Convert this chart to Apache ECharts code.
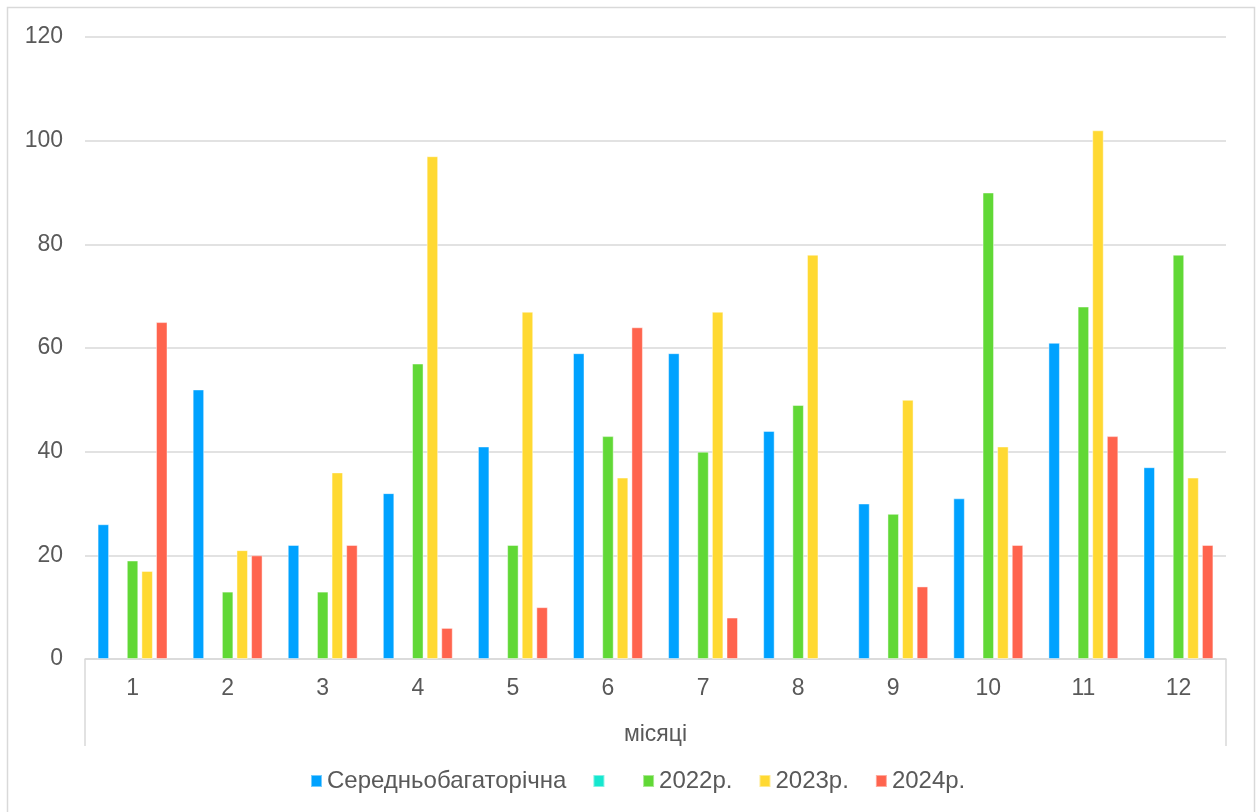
<!DOCTYPE html>
<html>
<head>
<meta charset="utf-8">
<script src="https://cdn.jsdelivr.net/npm/echarts@6/dist/echarts.min.js"></script>
<style>
  html, body { margin: 0; padding: 0; background: #ffffff; }
  #chart { width: 1258px; height: 812px; }
</style>
</head>
<body>
<div id="chart"></div>
<script>
// Monthly values per series (months 1..12)
const months = ['1', '2', '3', '4', '5', '6', '7', '8', '9', '10', '11', '12'];
const longTermMean = [26, 52, 22, 32, 41, 59, 59, 44, 30, 31, 61, 37];
const blankSeries = [null, null, null, null, null, null, null, null, null, null, null, null];
const y2022 = [19, 13, 13, 57, 22, 43, 40, 49, 28, 90, 68, 78];
const y2023 = [17, 21, 36, 97, 67, 35, 67, 78, 50, 41, 102, 35];
const y2024 = [65, 20, 22, 6, 10, 64, 8, null, 14, 22, 43, 22];
const yTicks = { min: 0, max: 120, interval: 20 };

const seriesNames = ['Середньобагаторічна', '\u00a0', '2022р.', '2023р.', '2024р.'];
const seriesData = [longTermMean, blankSeries, y2022, y2023, y2024];
const colors = ['#00A2FF', '#16E7CF', '#61D836', '#FFD932', '#FF644E'];

const FONT = "'Liberation Sans', Arial, sans-serif";
const TEXT = '#595959';
const LINE = '#d9d9d9';

// plot box in pixels
const W = 1258, H = 812;
const gridLeft = 85, gridRight = 32, gridTop = 37, gridBottom = 153;
const plotRightX = W - gridRight;
const plotBottomY = H - gridBottom;
const axisBoxBottom = 746;

const chart = echarts.init(document.getElementById('chart'), null, { renderer: 'canvas' });

chart.setOption({
  backgroundColor: '#ffffff',
  animation: false,
  color: colors,
  textStyle: { fontFamily: FONT },
  graphic: [
    {
      type: 'rect',
      shape: { x: 7.5, y: 7.5, width: 1247, height: 830 },
      style: { fill: 'none', stroke: LINE, lineWidth: 1.5 },
      silent: true, z: -10
    },
    {
      type: 'line',
      shape: { x1: gridLeft, y1: plotBottomY, x2: gridLeft, y2: axisBoxBottom },
      style: { stroke: LINE, lineWidth: 1.5 },
      silent: true
    },
    {
      type: 'line',
      shape: { x1: plotRightX, y1: plotBottomY, x2: plotRightX, y2: axisBoxBottom },
      style: { stroke: LINE, lineWidth: 1.5 },
      silent: true
    }
  ],
  grid: { left: gridLeft, right: gridRight, top: gridTop, bottom: gridBottom, containLabel: false },
  legend: {
    top: 769,
    left: 310,
    padding: 0,
    itemWidth: 11,
    itemHeight: 12,
    itemGap: 26,
    icon: 'rect',
    textStyle: { color: TEXT, fontSize: 24, fontFamily: FONT, padding: [0, 0, 0, 0] },
    data: seriesNames
  },
  xAxis: {
    type: 'category',
    data: months,
    name: 'місяці',
    nameLocation: 'middle',
    nameGap: 64,
    nameTextStyle: { color: TEXT, fontSize: 23, fontFamily: FONT },
    axisLine: { show: true, lineStyle: { color: LINE, width: 1.5 } },
    axisTick: { show: false },
    axisLabel: { color: TEXT, fontSize: 23, margin: 18, fontFamily: FONT }
  },
  yAxis: {
    type: 'value',
    min: yTicks.min,
    max: yTicks.max,
    interval: yTicks.interval,
    axisLine: { show: false },
    axisTick: { show: false },
    splitLine: { lineStyle: { color: LINE, width: 1.5 } },
    axisLabel: { color: TEXT, fontSize: 23, margin: 22, fontFamily: FONT }
  },
  series: seriesNames.map((name, i) => ({
    name: name,
    type: 'bar',
    data: seriesData[i],
    barWidth: 11.5,
    barGap: '27%',
    itemStyle: { color: colors[i], borderColor: 'rgba(255,255,255,0.45)', borderWidth: 1 }
  }))
});
</script>
</body>
</html>
